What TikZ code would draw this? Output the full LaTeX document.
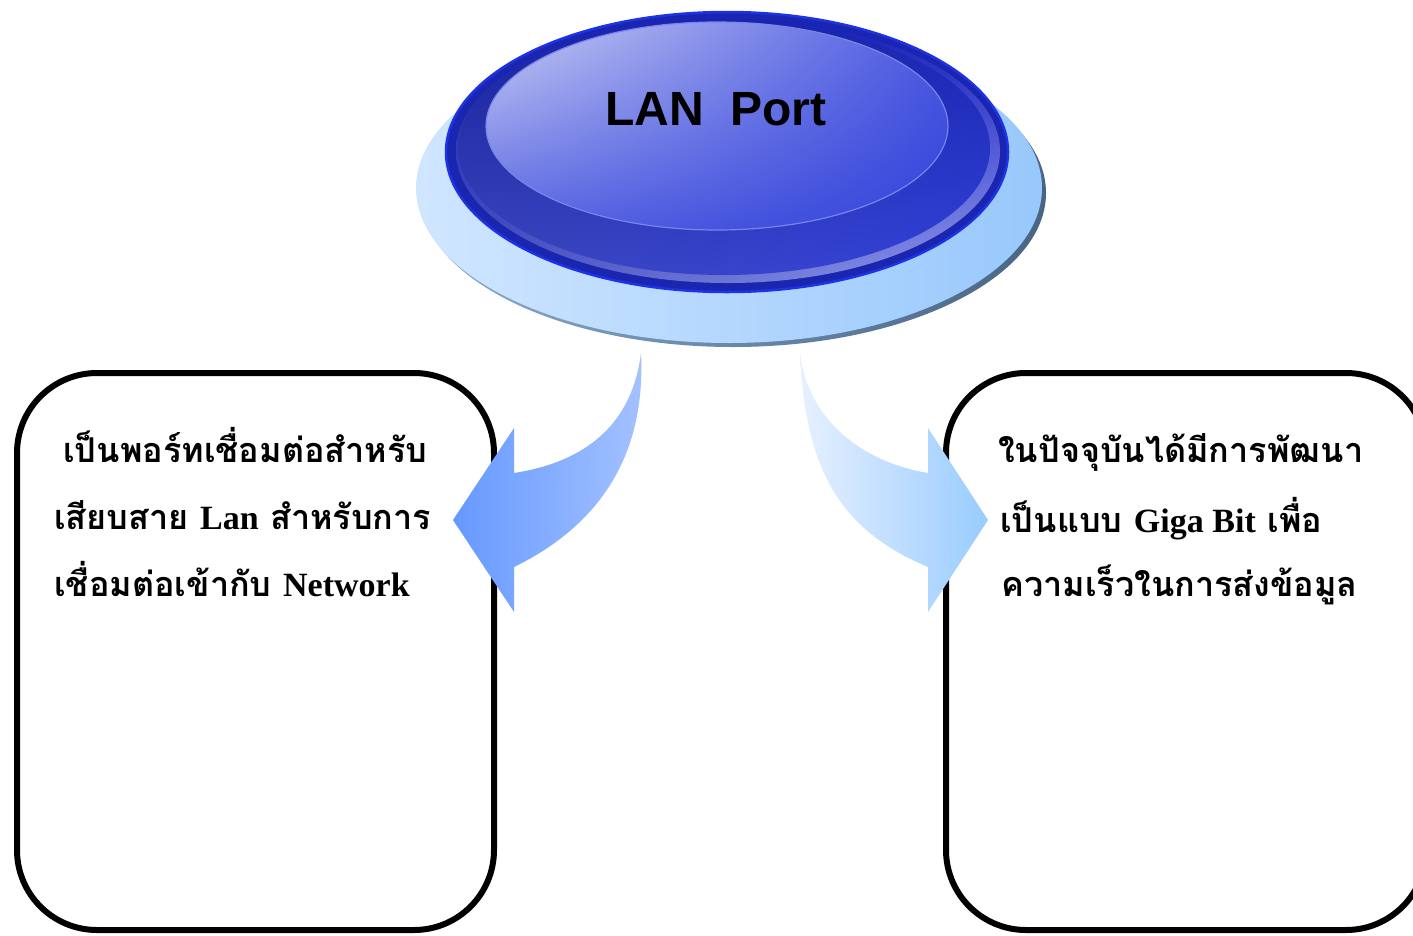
\documentclass[tikz,border=0pt]{standalone}
\usepackage{fontspec}
\usetikzlibrary{shadings}
\newfontfamily\thaifont[Script=Thai]{Loma}
\newfontfamily\latserif{Liberation Serif}
\newfontfamily\headfont{Liberation Sans}
\definecolor{baseL}{HTML}{D0E6FF}
\definecolor{baseR}{HTML}{98C8FC}
\definecolor{shadL}{HTML}{88AACB}
\definecolor{shadR}{HTML}{4A6584}
\definecolor{rimC}{HTML}{1A26B0}
\definecolor{rimLine}{HTML}{1E32E6}
\definecolor{faceUL}{HTML}{CACEF4}
\definecolor{faceUR}{HTML}{4C5AE0}
\definecolor{faceLL}{HTML}{5866E2}
\definecolor{faceLR}{HTML}{3242DA}
\definecolor{arrLA}{HTML}{6699FF}
\definecolor{arrLB}{HTML}{A4C2FF}
\definecolor{arrRA}{HTML}{E6F0FF}
\definecolor{arrRB}{HTML}{99CCFF}
\tikzset{
  textbox/.style={draw=black, line width=6pt, rounded corners=80pt, fill=white, inner sep=0pt},
  thailine/.style={anchor=base west, inner sep=0pt, font=\thaifont\bfseries\fontsize{34.2}{40}\selectfont},
}
\newcommand{\lat}[1]{{\latserif\bfseries\fontsize{34}{40}\selectfont #1}}
\begin{document}
\begin{tikzpicture}[x=1pt,y=-1pt]
\useasboundingbox (0,0) rectangle (1413,935);
\clip (0,0) rectangle (1413,935);
% boxes
\node[textbox, minimum width=477pt, minimum height=557pt] (lbox) at (255.5,651.5) {};
\node[textbox, minimum width=480pt, minimum height=557pt] (rbox) at (1186,651.5) {};
% button base
\shade[left color=shadL, right color=shadR] (733,193) ellipse [x radius=313, y radius=154];
\shade[left color=baseL, right color=baseR] (729,188) ellipse [x radius=313, y radius=155];
% button rim
\fill[rimC] (727,152) ellipse [x radius=281, y radius=140];
\shade[upper left=rimC, upper right=rimC!80!blue, lower left=rimC!80!white, lower right=faceUR!60!white] (728,151) ellipse [x radius=272, y radius=132];
\shade[upper left=rimC!90!black, upper right=rimC, lower left=rimC!85!white, lower right=faceLR] (724,148) ellipse [x radius=266, y radius=127];
\draw[rimLine, line width=2.5pt] (727,152) ellipse [x radius=281, y radius=140];
% face
\shade[upper left=faceUL, upper right=faceUR, lower left=faceLL, lower right=faceLR] (717,126) ellipse [x radius=231, y radius=104];
\draw[faceLL!80!white, line width=1.2pt] (717,126) ellipse [x radius=231, y radius=104];
\node[font=\headfont\bfseries\fontsize{48}{50}\selectfont, inner sep=0pt, anchor=base] (title) at (716,125) {LAN\ \ Port};
% arrows
\coordinate (la) at (641,353);
\coordinate (ra) at (800,353);
\shade[left color=arrLA, right color=arrLB]
  (la) .. controls (646,455) and (600,525) .. (514,567) -- (514,612) -- (453,520) -- (514,428) -- (514,473)
  .. controls (585,462) and (632,425) .. (la) -- cycle;
\shade[left color=arrRA, right color=arrRB]
  (ra) .. controls (805,470) and (840,530) .. (928,567) -- (928,612) -- (988,520) -- (928,428) -- (928,473)
  .. controls (862,462) and (808,420) .. (ra) -- cycle;
% texts
\node[thailine] (l1) at (63,462) {เป็นพอร์ทเชื่อมต่อสำหรับ};
\node[thailine] (l2) at (54,529) {เสียบสาย \lat{Lan} สำหรับการ};
\node[thailine] (l3) at (54,596) {เชื่อมต่อเข้ากับ \lat{Network}};
\node[thailine] (r1) at (998,462) {ในปัจจุบันได้มีการพัฒนา};
\node[thailine] (r2) at (1000,532) {เป็นแบบ \lat{Giga Bit} เพื่อ};
\node[thailine] (r3) at (1001,596) {ความเร็วในการส่งข้อมูล};
\end{tikzpicture}
\end{document}
